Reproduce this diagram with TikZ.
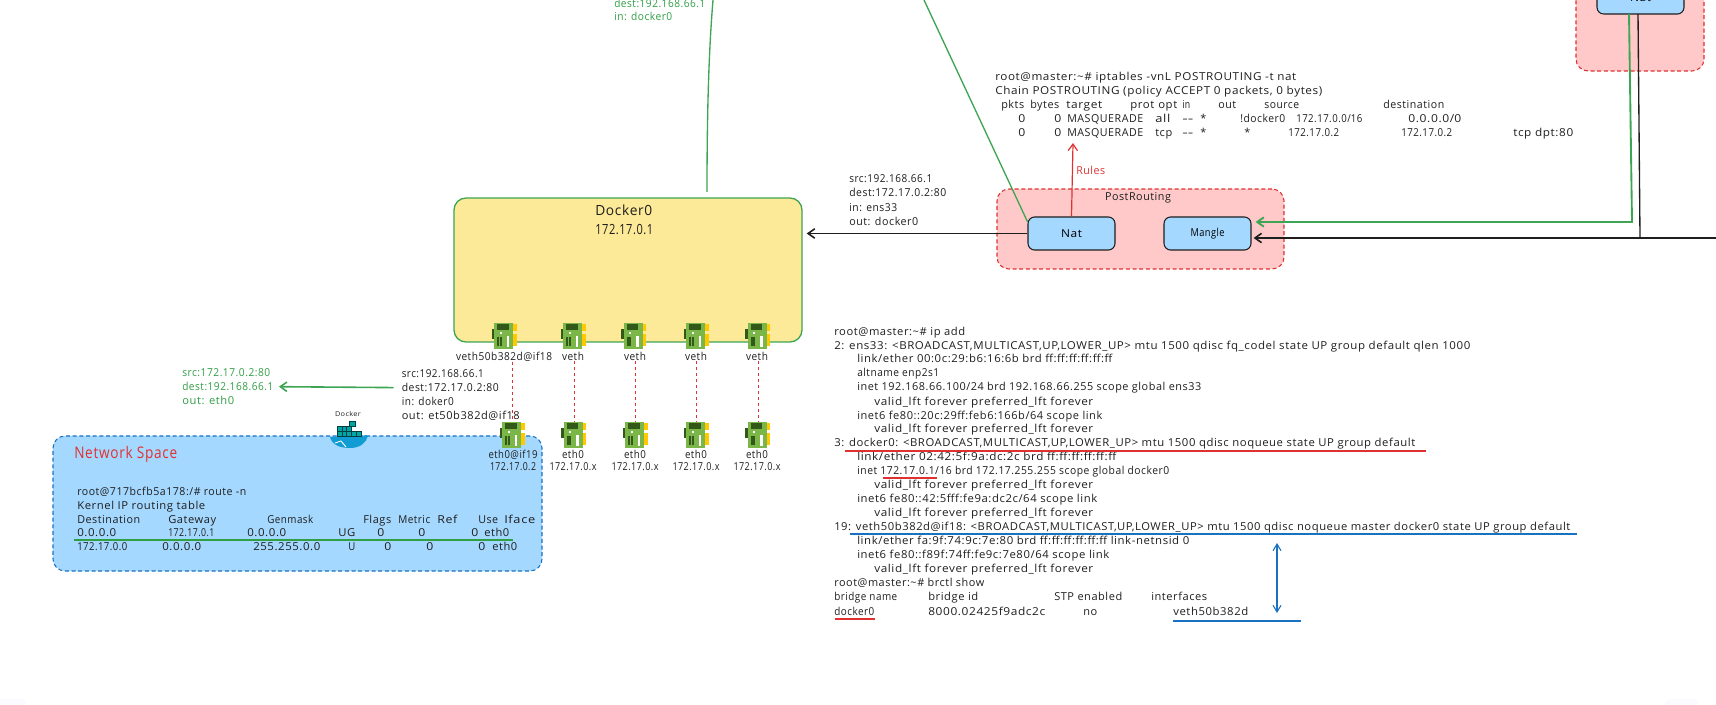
\documentclass[tikz,border=0pt]{standalone}
\usepackage{graphicx}
\usepackage{fontspec}
\setmainfont[LetterSpace=5]{Open Sans}
\usetikzlibrary{arrows.meta}
\definecolor{linegreen}{HTML}{3DA553}
\definecolor{textgreen}{HTML}{2F9E44}
\definecolor{redline}{HTML}{E03131}
\definecolor{redfill}{HTML}{FFC9C9}
\definecolor{bluefill}{HTML}{A5D8FF}
\definecolor{blueline}{HTML}{1971C2}
\definecolor{darkline}{HTML}{1E1E1E}
\definecolor{yellowfill}{HTML}{FDEA98}
\definecolor{nicgreen}{HTML}{7AB648}
\definecolor{nicdark}{HTML}{33591A}
\definecolor{nicyellow}{HTML}{FFC800}
\newdimen\pxw \pxw=.75pt
\newcommand{\fitw}[2]{\resizebox{#1\pxw}{\height}{#2}}
\tikzset{
  txt/.style={anchor=base west,inner sep=0pt,yshift=-2.8pt,text=darkline,font=\fontsize{8.2}{10}\selectfont},
  mid/.style={txt,anchor=base},
  gtxt/.style={txt,text=textgreen},
  tip/.style={-{Straight Barb[length=5pt,width=7pt]}},
  redgroup/.style={draw=redline,fill=redfill,dashed,line width=.8pt,rounded corners=9pt,inner sep=0pt,dash pattern=on 3pt off 2pt},
  tablebox/.style={draw=darkline,fill=bluefill,line width=.8pt,rounded corners=5pt,inner sep=0pt,minimum width=65.25pt,minimum height=24.75pt,font=\fontsize{8.2}{10}\selectfont},
  netdash/.style={redline,line width=.7pt,dash pattern=on 2.5pt off 2pt},
  nic/.pic={
    \fill[nicgreen] (-10.3,-13) rectangle (8.7,13);
    \fill[nicdark] (-13,-7) rectangle (-10.3,3);
    \fill[nicyellow] (8.7,-12) rectangle (12,-4.7);
    \fill[nicyellow] (8.7,-2.3) rectangle (12,9.7);
    \fill[nicdark] (-7.3,-12) rectangle (4.3,-6.3);
    \fill[white] (-5,-4) rectangle (-3,-2);
    \fill[nicdark] (-7.5,1) rectangle (-5.5,10.5);
    \fill[nicdark] (-5,1) rectangle (-3,10.5);
    \fill[white] (2,.5) rectangle (4.5,11.5);
  }
}
\begin{document}
\begin{tikzpicture}[x=.75pt,y=-.75pt]
\useasboundingbox (0,0) rectangle (1716,705);
\clip (0,0) rectangle (1716,705);
% canvas corners
\fill[fill=black!8!blue!2!white,rounded corners=3pt] (-10,699) rectangle (26,715);
\fill[fill=black!8!blue!2!white,rounded corners=3pt] (1665,699) rectangle (1698,715);

% free ends
\coordinate (topa) at (713,0);
\coordinate (dockin) at (707,192);
\coordinate (topb) at (924,0);
\coordinate (rulestip) at (1073,143);
\coordinate (greenout) at (1629,14);
\coordinate (greenbend) at (1632,222);
\coordinate (blackout) at (1638,14);
\coordinate (blackbend) at (1640,238);
\coordinate (blackend) at (1716,238);

% groups
\node[draw=linegreen,fill=yellowfill,line width=1pt,rounded corners=9pt,inner sep=0pt,minimum width=261pt,minimum height=108pt] (dock) at (628,270) {};
\node[redgroup,minimum width=215.25pt,minimum height=60pt] (postgroup) at (1140.5,229) {};
\node[redgroup,minimum width=96pt,minimum height=105pt] (pregroup) at (1640,1) {};
\node[draw=blueline,fill=bluefill,dashed,line width=.8pt,rounded corners=9pt,inner sep=0pt,dash pattern=on 3pt off 2pt,minimum width=366.75pt,minimum height=101.25pt] (netspace) at (297.5,503.5) {};

% tables
\node[tablebox] (nat) at (1071.5,233.5) {\fitw{21}{Nat}};
\node[tablebox] (mangle) at (1207.5,233.5) {\fitw{34}{Mangle}};
\node[tablebox] (pretable) at (1640.5,-2.5) {\fitw{21}{Nat}};
\node[mid] (postlabel) at (1138,197) {\fitw{66}{PostRouting}};

% connectors
\draw[linegreen,line width=1pt] (topa) .. controls (708,60) and (707,130) .. (dockin);
\draw[linegreen,line width=1pt] (topb) -- (nat.165);
\draw[darkline,line width=1.2pt,tip,shorten >=3pt] (nat.west) -- (nat.west -| dock.east);
\draw[redline,line width=.9pt,tip] (nat.north) -- (rulestip);
\draw[linegreen,line width=1.4pt,tip,shorten >=3pt] (greenout) -- (greenbend) -- (greenbend -| mangle.east);
\draw[darkline,line width=1pt] (blackout) -- (blackbend);
\draw[darkline,line width=1.2pt,tip,shorten >=1.5pt] (blackend) -- (blackend -| mangle.east);

% docker0 text
\node[txt,font=\fontsize{10.5}{13}\selectfont] (dname) at (595,212) {\fitw{57}{Docker0}};
\node[txt,font=\fontsize{10.5}{13}\selectfont] (dip) at (595,231) {\fitw{58}{172.17.0.1}};

% nics
\coordinate (v1) at (504.5,336);
\coordinate (v2) at (573.5,336);
\coordinate (v3) at (634,336);
\coordinate (v4) at (696.5,336);
\coordinate (v5) at (758,336);
\coordinate (e1) at (512.5,435);
\coordinate (e2) at (574,435);
\coordinate (e3) at (635.5,435);
\coordinate (e4) at (696.5,435);
\coordinate (e5) at (758,435);
\node[mid] (vl1) at (504,357) {\fitw{96}{veth50b382d@if18}};
\node[mid] (vl2) at (573,357) {\fitw{22}{veth}};
\node[mid] (vl3) at (635,357) {\fitw{22}{veth}};
\node[mid] (vl4) at (696,357) {\fitw{22}{veth}};
\node[mid] (vl5) at (757,357) {\fitw{22}{veth}};
\draw[netdash] (vl1.south -| e1) -- (e1);
\draw[netdash] (vl2.south -| e2) -- (e2);
\draw[netdash] (vl3.south -| e3) -- (e3);
\draw[netdash] (vl4.south -| e4) -- (e4);
\draw[netdash] (vl5.south -| e5) -- (e5);
\foreach \n in {v1,v2,v3,v4,v5,e1,e2,e3,e4,e5}
  \pic at (\n) {nic};
\node[mid] (el1) at (513,455) {\fitw{49}{eth0@if19}};
\node[mid] (ip1) at (513,467) {\fitw{46}{172.17.0.2}};
\node[mid] (el2) at (573,455) {\fitw{22}{eth0}};
\node[mid] (ip2) at (573,467) {\fitw{47}{172.17.0.x}};
\node[mid] (el3) at (635,455) {\fitw{22}{eth0}};
\node[mid] (ip3) at (635,467) {\fitw{47}{172.17.0.x}};
\node[mid] (el4) at (696,455) {\fitw{22}{eth0}};
\node[mid] (ip4) at (696,467) {\fitw{47}{172.17.0.x}};
\node[mid] (el5) at (757,455) {\fitw{22}{eth0}};
\node[mid] (ip5) at (757,467) {\fitw{47}{172.17.0.x}};

% packet labels
\node[gtxt] (topd) at (614,4) {\fitw{91}{dest:192.168.66.1}};
\node[gtxt] (topi) at (614,17) {\fitw{58}{in: docker0}};
\node[txt] (ina) at (849,179) {\fitw{83}{src:192.168.66.1}};
\node[txt] (inb) at (849,193) {\fitw{97}{dest:172.17.0.2:80}};
\node[txt] (inc) at (849,208) {\fitw{48}{in: ens33}};
\node[txt] (ind) at (849,222) {\fitw{69}{out: docker0}};
\node[txt] (lsa) at (401.5,374) {\fitw{82}{src:192.168.66.1}};
\node[txt] (lsb) at (401.5,388) {\fitw{97}{dest:172.17.0.2:80}};
\node[txt] (lsc) at (401.5,402) {\fitw{52}{in: doker0}};
\node[txt] (lsd) at (401.5,416) {\fitw{118}{out: et50b382d@if18}};
\node[gtxt] (gsa) at (182,373) {\fitw{88}{src:172.17.0.2:80}};
\node[gtxt] (gsb) at (182,387) {\fitw{91}{dest:192.168.66.1}};
\node[gtxt] (gsc) at (182,401) {\fitw{52}{out: eth0}};
\draw[linegreen,line width=1.2pt,tip,shorten <=6pt,shorten >=4pt] (lsb.west) -- (gsb.east);
\node[txt,text=redline] (rules) at (1076,171) {\fitw{29}{Rules}};

% whale
\node[mid,font=\fontsize{5}{6}\selectfont] (whalelabel) at (348,413) {\fitw{26}{Docker}};
\fill[blueline!70!cyan] (330,437) -- (362,437) .. controls (364,435) and (366,434) .. (368,436) .. controls (366,443) and (360,448) .. (350,448) .. controls (340,448) and (332,445) .. (330,437) -- cycle;
\draw[white,line width=.7pt] (335,443) -- (341,441) -- (346,447);
\foreach \i in {0,1,2,3,4}
  \draw[fill=teal!70!cyan,draw=teal!50!black,line width=.3pt] (337+\i*4.8,431.5) rectangle +(4.8,5);
\foreach \i in {0,1,2}
  \draw[fill=teal!70!cyan,draw=teal!50!black,line width=.3pt] (337+\i*4.8,426.5) rectangle +(4.8,5);
\draw[fill=teal!70!cyan,draw=teal!50!black,line width=.3pt] (349.5,421.5) rectangle +(5.5,5);

% network space
\node[txt,text=redline,font=\fontsize{12}{14}\selectfont] (nslabel) at (74,455) {\fitw{103}{Network Space}};
\node[txt] (ra) at (77,492) {\fitw{169}{root@717bcfb5a178:/\# route -n}};
\node[txt] (rb) at (77,506) {\fitw{128}{Kernel IP routing table}};
\foreach \x/\w/\t [count=\i] in {77/63/Destination,168/48/Gateway,267/46/Genmask,363/28/Flags,398/32/Metric,437/20/Ref,478/20/Use,504/31/Iface}
  \node[txt] (rh\i) at (\x,520) {\fitw{\w}{\t}};
\foreach \x/\w/\t [count=\i] in {77/39/0.0.0.0,168/46/172.17.0.1,247/39/0.0.0.0,338/17/UG,377/7/0,418/7/0,471/7/0,484/25/eth0}
  \node[txt] (rd\i) at (\x,533) {\fitw{\w}{\t}};
\foreach \x/\w/\t [count=\i] in {77/50/172.17.0.0,162/39/0.0.0.0,253/67/255.255.0.0,348/7/U,384/7/0,426/7/0,478/7/0,492/25/eth0}
  \node[txt] (re\i) at (\x,547) {\fitw{\w}{\t}};
\draw[textgreen,line width=1pt] (74,540) -- (513,540);

% iptables
\node[txt] (ta) at (995,77) {\fitw{301}{root@master:\textasciitilde\# iptables -vnL POSTROUTING -t nat}};
\node[txt] (tb) at (995,91) {\fitw{327}{Chain POSTROUTING (policy ACCEPT 0 packets, 0 bytes)}};
\foreach \x/\w/\t [count=\i] in {1001/23/pkts,1030/29/bytes,1066/36/target,1130/24/prot,1158/19/opt,1182/8/in,1218/18/out,1264/35/source,1383/61/destination}
  \node[txt] (th\i) at (\x,105) {\fitw{\w}{\t}};
\foreach \x/\w/\t [count=\i] in {1018/7/0,1054/7/0,1067/76/MASQUERADE,1155/15/all,1182/11/\mbox{-}\mbox{-},1200/6/*,1240/45/!docker0,1296/66/172.17.0.0\slash 16,1408/53/0.0.0.0\slash 0}
  \node[txt] (tc\i) at (\x,119) {\fitw{\w}{\t}};
\foreach \x/\w/\t [count=\i] in {1018/7/0,1054/7/0,1067/76/MASQUERADE,1155/17/tcp,1182/11/\mbox{-}\mbox{-},1200/6/*,1244/6/*,1288/51/172.17.0.2,1401/51/172.17.0.2,1513/60/tcp dpt:80}
  \node[txt] (td\i) at (\x,133) {\fitw{\w}{\t}};

% ip add
\node[txt] (aa) at (834,332) {\fitw{131}{root@master:\textasciitilde\# ip add}};
\node[txt] (ab) at (834,346) {\fitw{636}{2: ens33: <BROADCAST,MULTICAST,UP,LOWER\_UP> mtu 1500 qdisc fq\_codel state UP group default qlen 1000}};
\node[txt] (ac) at (857,359) {\fitw{255}{link/ether 00:0c:29:b6:16:6b brd ff:ff:ff:ff:ff:ff}};
\node[txt] (ad) at (857,373) {\fitw{82}{altname enp2s1}};
\node[txt] (ae) at (857,387) {\fitw{344}{inet 192.168.66.100/24 brd 192.168.66.255 scope global ens33}};
\node[txt] (af) at (874,402) {\fitw{219}{valid\_lft forever preferred\_lft forever}};
\node[txt] (ag) at (857,416) {\fitw{245}{inet6 fe80::20c:29ff:feb6:166b/64 scope link}};
\node[txt] (ah) at (874,429) {\fitw{219}{valid\_lft forever preferred\_lft forever}};
\node[txt] (ai) at (834,443) {\fitw{581}{3: docker0: <BROADCAST,MULTICAST,UP,LOWER\_UP> mtu 1500 qdisc noqueue state UP group default}};
\node[txt] (aj) at (857,457) {\fitw{259}{link/ether 02:42:5f:9a:dc:2c brd ff:ff:ff:ff:ff:ff}};
\node[txt] (ak) at (857,471) {\fitw{312}{inet 172.17.0.1/16 brd 172.17.255.255 scope global docker0}};
\node[txt] (al) at (874,485) {\fitw{219}{valid\_lft forever preferred\_lft forever}};
\node[txt] (am) at (857,499) {\fitw{240}{inet6 fe80::42:5fff:fe9a:dc2c/64 scope link}};
\node[txt] (an) at (874,513) {\fitw{219}{valid\_lft forever preferred\_lft forever}};
\node[txt] (ao) at (834,527) {\fitw{736}{19: veth50b382d@if18: <BROADCAST,MULTICAST,UP,LOWER\_UP> mtu 1500 qdisc noqueue master docker0 state UP group default}};
\node[txt] (ap) at (857,541) {\fitw{332}{link/ether fa:9f:74:9c:7e:80 brd ff:ff:ff:ff:ff:ff link-netnsid 0}};
\node[txt] (aq) at (857,555) {\fitw{252}{inet6 fe80::f89f:74ff:fe9c:7e80/64 scope link}};
\node[txt] (ar) at (874,569) {\fitw{219}{valid\_lft forever preferred\_lft forever}};
\node[txt] (as) at (834,583) {\fitw{150}{root@master:\textasciitilde\# brctl show}};
\foreach \x/\w/\t [count=\i] in {834/63/bridge name,928/50/bridge id,1054/68/STP enabled,1151/56/interfaces}
  \node[txt] (bh\i) at (\x,597) {\fitw{\w}{\t}};
\foreach \x/\w/\t [count=\i] in {834/40/docker0,928/117/8000.02425f9adc2c,1083/14/no,1173/75/veth50b382d}
  \node[txt] (bd\i) at (\x,612) {\fitw{\w}{\t}};

% underlines
\draw[redline,line width=1pt] (845,451) -- (1426,451);
\draw[redline,line width=.8pt] (883,478) -- (937,478);
\draw[redline,line width=1pt] (835,619) -- (875,619);
\draw[blueline,line width=1pt] (850,534) -- (1577,534);
\draw[blueline,line width=1pt] (1173,621) -- (1301,621);
\coordinate (ba) at (1277,543);
\coordinate (bb) at (1277,613);
\draw[blueline,line width=.8pt,{Straight Barb[length=5pt,width=6pt]}-{Straight Barb[length=5pt,width=6pt]}] (ba) -- (bb);
\end{tikzpicture}
\end{document}
